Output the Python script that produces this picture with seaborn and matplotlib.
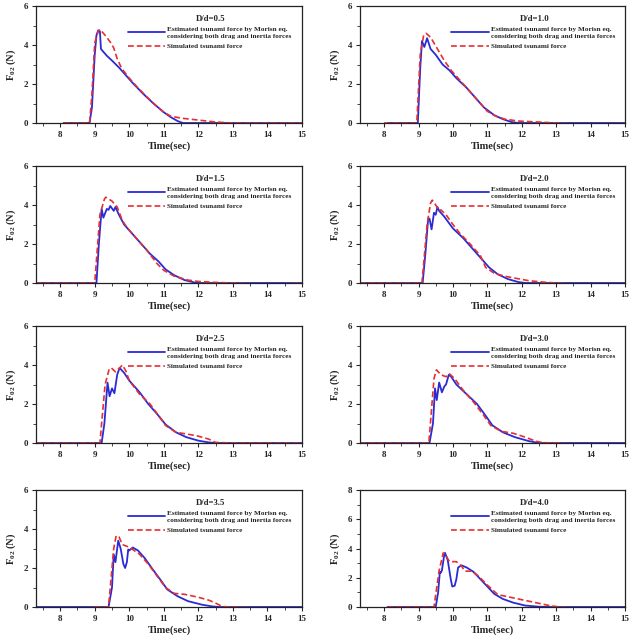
import numpy as np
import pandas as pd
import matplotlib
matplotlib.use("Agg")
import matplotlib.pyplot as plt
import seaborn as sns
from matplotlib.ticker import MultipleLocator

sns.set_style("ticks")
plt.rcParams['font.family'] = ['Liberation Serif', 'DejaVu Serif']
plt.rcParams['font.weight'] = 'bold'
plt.rcParams['mathtext.fontset'] = 'custom'
plt.rcParams['mathtext.rm'] = 'Liberation Serif:bold'
plt.rcParams['mathtext.bf'] = 'Liberation Serif:bold'
plt.rcParams['mathtext.it'] = 'Liberation Serif:bold'

titles = ["D/d=0.5", "D/d=1.0", "D/d=1.5", "D/d=2.0",
          "D/d=2.5", "D/d=3.0", "D/d=3.5", "D/d=4.0"]
label_est = "Estimated tsunami force by Morisn eq.\nconsidering both drag and inertia forces"
label_sim = "Simulated tsunami force"

# Panel 1: D/d=0.5
est_t1 = [8.1, 8.85, 8.92, 9.0, 9.05, 9.1, 9.15, 9.18, 9.25, 9.35, 9.5, 9.7, 9.9, 10.1, 10.4, 10.7, 11.0, 11.2, 11.4, 11.55, 15.0]
est_f1 = [0, 0, 0.8, 3.5, 4.5, 4.75, 4.7, 3.8, 3.65, 3.45, 3.2, 2.85, 2.45, 2.05, 1.5, 1.0, 0.55, 0.3, 0.1, 0.0, 0.0]
sim_t1 = [8.1, 8.85, 8.92, 9.0, 9.1, 9.15, 9.3, 9.45, 9.55, 9.65, 9.78, 10.0, 10.2, 10.5, 10.8, 11.0, 11.2, 11.5, 12.0, 12.5, 13.0, 15.0]
sim_f1 = [0, 0, 1.5, 4.1, 4.7, 4.8, 4.5, 4.15, 3.85, 3.3, 2.8, 2.3, 1.9, 1.35, 0.85, 0.55, 0.35, 0.25, 0.15, 0.05, 0.0, 0.0]

# Panel 2: D/d=1.0
est_t2 = [8.1, 8.98, 9.05, 9.1, 9.17, 9.25, 9.35, 9.5, 9.7, 9.9, 10.1, 10.4, 10.7, 10.9, 11.2, 11.45, 11.7, 11.9, 15.0]
est_f2 = [0, 0, 2.8, 4.2, 3.9, 4.35, 3.8, 3.5, 3.0, 2.7, 2.3, 1.8, 1.2, 0.8, 0.4, 0.2, 0.05, 0.0, 0.0]
sim_t2 = [8.0, 8.95, 9.05, 9.15, 9.22, 9.35, 9.55, 9.75, 9.95, 10.2, 10.5, 10.75, 11.0, 11.25, 11.5, 11.9, 12.5, 13.0, 13.5, 14.5, 15.0]
sim_f2 = [0, 0, 3.5, 4.5, 4.6, 4.4, 3.8, 3.2, 2.7, 2.2, 1.6, 1.1, 0.6, 0.35, 0.2, 0.1, 0.05, 0.0, -0.05, -0.05, -0.02]

# Panel 3: D/d=1.5
est_t3 = [7.3, 9.05, 9.12, 9.2, 9.25, 9.35, 9.4, 9.45, 9.55, 9.6, 9.7, 9.85, 10.05, 10.35, 10.6, 10.85, 11.05, 11.3, 11.6, 11.9, 12.0, 15.0]
est_f3 = [0, 0, 2.0, 3.8, 3.35, 3.8, 3.75, 3.95, 3.7, 3.9, 3.5, 3.0, 2.6, 2.0, 1.5, 1.1, 0.7, 0.4, 0.15, 0.02, 0.0, 0.0]
sim_t3 = [7.3, 9.0, 9.15, 9.28, 9.32, 9.5, 9.65, 9.8, 9.95, 10.2, 10.5, 10.8, 11.0, 11.3, 11.7, 12.0, 12.5, 13.0, 13.7, 14.5, 15.0]
sim_f3 = [0, 0, 3.5, 4.3, 4.4, 4.2, 3.9, 3.2, 2.8, 2.3, 1.7, 1.0, 0.65, 0.35, 0.15, 0.08, 0.03, 0.0, -0.05, -0.05, 0.0]

# Panel 4: D/d=2.0
est_t4 = [7.3, 9.12, 9.2, 9.28, 9.32, 9.38, 9.45, 9.5, 9.55, 9.6, 9.75, 10.0, 10.3, 10.55, 10.8, 11.05, 11.3, 11.6, 11.9, 12.1, 15.0]
est_f4 = [0, 0, 1.5, 3.3, 3.3, 2.75, 3.6, 3.5, 3.9, 3.7, 3.4, 2.8, 2.3, 1.8, 1.3, 0.8, 0.45, 0.2, 0.05, 0.0, 0.0]
sim_t4 = [7.3, 9.1, 9.25, 9.35, 9.4, 9.5, 9.6, 9.65, 9.8, 10.0, 10.2, 10.5, 10.8, 10.95, 11.2, 11.5, 11.8, 12.2, 12.6, 13.0, 13.5, 14.5, 14.95]
sim_f4 = [0, 0, 3.0, 4.1, 4.25, 4.0, 3.7, 3.75, 3.5, 3.0, 2.55, 2.0, 1.4, 0.8, 0.5, 0.35, 0.25, 0.12, 0.05, 0.0, -0.05, -0.05, -0.2]

# Panel 5: D/d=2.5
est_t5 = [7.3, 9.2, 9.28, 9.37, 9.43, 9.5, 9.57, 9.65, 9.72, 9.85, 10.0, 10.3, 10.55, 10.8, 11.05, 11.35, 11.65, 12.0, 12.3, 12.5, 15.0]
est_f5 = [0, 0, 1.0, 3.1, 2.4, 2.8, 2.55, 3.5, 3.85, 3.6, 3.2, 2.6, 2.0, 1.5, 0.95, 0.55, 0.3, 0.12, 0.03, 0.0, 0.0]
sim_t5 = [7.3, 9.15, 9.3, 9.42, 9.48, 9.6, 9.75, 9.8, 9.9, 10.0, 10.3, 10.6, 10.85, 11.05, 11.35, 11.7, 12.0, 12.3, 12.5, 13.0, 15.0]
sim_f5 = [0, 0, 3.0, 3.8, 3.85, 3.65, 3.9, 4.0, 3.7, 3.2, 2.5, 2.0, 1.4, 0.9, 0.55, 0.45, 0.35, 0.2, 0.03, 0.0, 0.0]

# Panel 6: D/d=3.0
est_t6 = [7.3, 9.32, 9.42, 9.48, 9.53, 9.6, 9.68, 9.75, 9.8, 9.88, 9.95, 10.1, 10.4, 10.7, 10.95, 11.15, 11.45, 11.8, 12.2, 12.5, 15.0]
est_f6 = [0, 0, 1.0, 2.8, 2.2, 3.1, 2.6, 2.9, 3.0, 3.5, 3.4, 3.0, 2.5, 2.0, 1.4, 0.9, 0.55, 0.3, 0.1, 0.0, 0.0]
sim_t6 = [7.3, 9.3, 9.45, 9.52, 9.65, 9.8, 9.9, 10.05, 10.3, 10.6, 10.9, 11.1, 11.4, 11.75, 12.1, 12.4, 12.6, 13.0, 13.5, 15.0]
sim_f6 = [0, 0, 3.3, 3.75, 3.5, 3.4, 3.55, 3.3, 2.7, 2.1, 1.4, 0.9, 0.6, 0.5, 0.3, 0.1, 0.02, 0.0, -0.05, -0.05]

# Panel 7: D/d=3.5
est_t7 = [7.3, 9.4, 9.5, 9.55, 9.6, 9.68, 9.75, 9.83, 9.88, 9.93, 9.97, 10.0, 10.1, 10.25, 10.45, 10.65, 10.9, 11.1, 11.4, 11.7, 12.1, 12.4, 12.6, 15.0]
est_f7 = [0, 0, 1.0, 2.7, 2.3, 3.4, 3.0, 2.2, 2.0, 2.3, 2.95, 2.9, 3.05, 2.9, 2.5, 2.0, 1.4, 0.9, 0.55, 0.3, 0.12, 0.03, 0.0, 0.0]
sim_t7 = [9.0, 9.4, 9.55, 9.62, 9.7, 9.8, 9.95, 10.1, 10.3, 10.55, 10.8, 11.05, 11.3, 11.6, 12.0, 12.3, 12.5, 12.7, 13.0, 13.5, 14.5, 14.95]
sim_f7 = [0, 0, 3.0, 3.65, 3.6, 3.2, 3.1, 2.95, 2.7, 2.2, 1.6, 1.0, 0.7, 0.65, 0.5, 0.35, 0.2, 0.02, 0.0, -0.05, -0.1, -0.2]

# Panel 8: D/d=4.0
est_t8 = [8.1, 9.5, 9.57, 9.62, 9.65, 9.68, 9.75, 9.77, 9.85, 9.93, 9.98, 10.05, 10.1, 10.15, 10.25, 10.4, 10.6, 10.8, 11.0, 11.2, 11.45, 11.75, 12.1, 12.5, 12.8, 15.0]
est_f8 = [0, 0, 1.0, 2.4, 2.35, 2.5, 3.6, 3.7, 3.2, 2.0, 1.4, 1.45, 1.9, 2.7, 2.85, 2.7, 2.4, 1.9, 1.4, 0.9, 0.55, 0.3, 0.1, 0.02, 0.0, 0.0]
sim_t8 = [8.1, 9.45, 9.6, 9.72, 9.8, 9.9, 10.1, 10.25, 10.35, 10.55, 10.75, 11.0, 11.3, 11.6, 11.9, 12.2, 12.5, 12.8, 13.1, 13.5, 14.0, 14.5, 14.95]
sim_f8 = [0, 0, 2.5, 3.7, 3.5, 3.1, 3.1, 2.8, 2.45, 2.45, 2.1, 1.5, 0.85, 0.7, 0.55, 0.4, 0.25, 0.1, 0.0, -0.1, -0.2, -0.25, -0.15]

est_t = [est_t1, est_t2, est_t3, est_t4, est_t5, est_t6, est_t7, est_t8]
est_f = [est_f1, est_f2, est_f3, est_f4, est_f5, est_f6, est_f7, est_f8]
sim_t = [sim_t1, sim_t2, sim_t3, sim_t4, sim_t5, sim_t6, sim_t7, sim_t8]
sim_f = [sim_f1, sim_f2, sim_f3, sim_f4, sim_f5, sim_f6, sim_f7, sim_f8]
y_max = [6, 6, 6, 6, 6, 6, 6, 8]

W, H = 637, 644
fig = plt.figure(figsize=(W / 100, H / 100), dpi=100)
cols = [(36, 302), (360, 625)]
rows = [(6, 123), (166, 283), (326, 443), (490, 607)]

blue = "#2a2ad6"
red = "#e53030"

for i in range(8):
    r, c = divmod(i, 2)
    x0, x1 = cols[c]
    y0, y1 = rows[r]
    ax = fig.add_axes([x0 / W, 1 - y1 / H, (x1 - x0) / W, (y1 - y0) / H])
    ax.set_facecolor("white")
    sns.lineplot(x=est_t[i], y=est_f[i], ax=ax, color=blue, lw=1.3,
                 label=label_est, estimator=None, sort=False)
    sns.lineplot(x=sim_t[i], y=sim_f[i], ax=ax, color=red, lw=1.2,
                 linestyle=(0, (3.5, 1.8)), label=label_sim, estimator=None, sort=False)
    ax.set_xlim(7.3, 15)
    ax.set_ylim(0, y_max[i])
    ax.xaxis.set_major_locator(MultipleLocator(1))
    ax.xaxis.set_minor_locator(MultipleLocator(0.5))
    ax.yaxis.set_major_locator(MultipleLocator(2))
    ax.yaxis.set_minor_locator(MultipleLocator(1))
    ax.set_xticks(list(range(8, 16)))
    ax.tick_params(which='major', direction='out', length=3, width=0.8, labelsize=6.5, pad=2.5)
    ax.tick_params(which='minor', direction='out', length=2, width=0.6)
    for lab in ax.get_xticklabels() + ax.get_yticklabels():
        lab.set_fontweight('bold')
    for sp in ax.spines.values():
        sp.set_linewidth(0.9)
        sp.set_color("#222222")
    ax.set_xlabel("Time(sec)", fontsize=7.5, fontweight='bold', labelpad=2)
    ax.set_ylabel(r"F$_{02}$ (N)", fontsize=7.5, fontweight='bold', labelpad=4)
    ax.text(0.658, 0.889, titles[i], transform=ax.transAxes, ha='center', va='center',
            fontsize=6.3, fontweight='bold')
    leg = ax.legend(loc='upper left', bbox_to_anchor=(0.345, 0.82), frameon=False,
                    fontsize=5.2, handlelength=5.2, handletextpad=0.3, labelspacing=0.65,
                    borderaxespad=0.0, borderpad=0.0)
    for t in leg.get_texts():
        t.set_fontweight('bold')
        t.set_linespacing(1.4)

fig.savefig("out.png", dpi=100, facecolor="white")
